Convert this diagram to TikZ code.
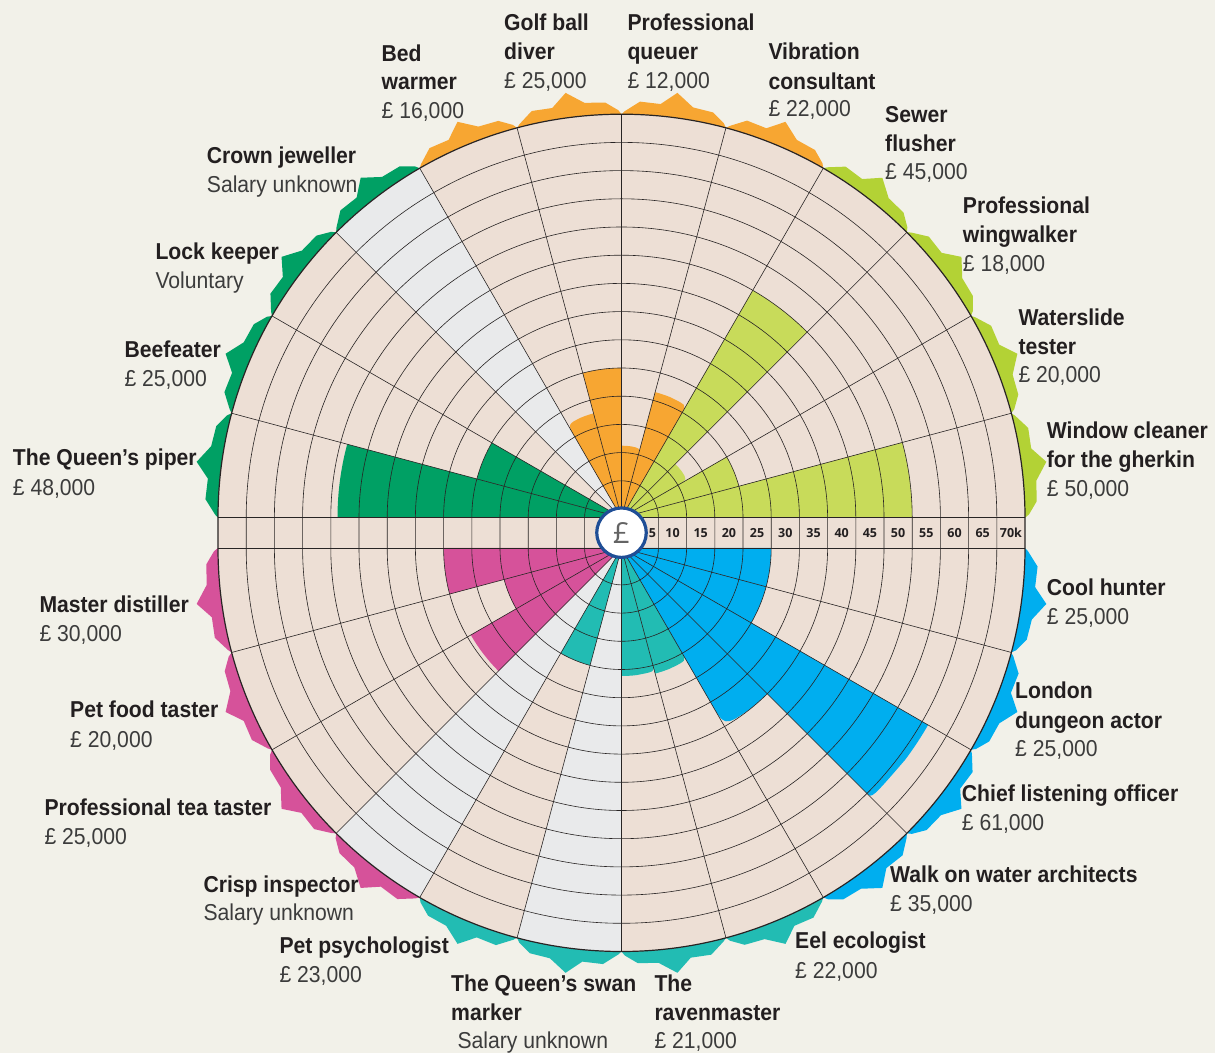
\documentclass[tikz,border=0pt]{standalone}
\usepackage{fontspec}
\setmainfont{Liberation Sans}[FakeStretch=0.92]
\newfontfamily\numf{Open Sans}
\usetikzlibrary{calc}
\definecolor{bg}{RGB}{242,241,233}
\definecolor{beige}{RGB}{237,223,213}
\definecolor{greyw}{RGB}{233,234,235}
\definecolor{cOr}{RGB}{247,166,50}
\definecolor{cLi}{RGB}{200,219,90}
\definecolor{cLiT}{RGB}{179,210,53}
\definecolor{cBl}{RGB}{0,174,239}
\definecolor{cTe}{RGB}{34,188,179}
\definecolor{cPi}{RGB}{214,82,154}
\definecolor{cDg}{RGB}{0,160,100}
\definecolor{ink}{RGB}{35,31,32}
\definecolor{inkl}{RGB}{60,60,60}
\definecolor{gridc}{RGB}{40,36,36}
\definecolor{pound}{RGB}{31,78,150}
\definecolor{pgrey}{RGB}{100,100,100}
% sector wedge: center, a1, a2, radius, colour
\newcommand\wdg[5]{\fill[fill=#5] (#1) -- ($(#1)+(#2:#4)$) arc[start angle=#2, end angle=#3, radius=#4pt] -- cycle;}
% rounded-end wedge: center, full-side angle, rounded-side angle, base radius, value radius, colour
\newcommand\blb[6]{\fill[fill=#6] (#1) -- ($(#1)+(#2:#5)$) arc[start angle=#2, end angle={#2+0.45*(#3-#2)}, radius=#5pt] .. controls ($(#1)+(#3:#5)$) .. ($(#1)+(#3:#4)$) -- cycle;}
% decorative teeth: center, a1, a2, colour
\newcommand\mkteeth[4]{\fill[fill=#4] (#1) \foreach \t/\d in {0/0,0.03/4,0.15/12,0.34/13,0.5/25,0.64/12,0.83/13,0.97/3,1/0}{ -- ($(#1)+({#2+\t*(#3-#2)}:{403.5+\d})$)} -- cycle;}
\begin{document}
\begin{tikzpicture}[x=1pt,y=1pt,
  grid/.style={draw=gridc, line width=0.6pt},
  lb/.style={anchor=base west, inner sep=0pt, font=\bfseries\fontsize{23}{29}\selectfont, text=ink},
  sl/.style={anchor=base west, inner sep=0pt, font=\fontsize{23}{29}\selectfont, text=inkl},
  sc/.style={inner sep=0pt, font=\numf\bfseries\fontsize{12.5}{13}\selectfont, text=ink}]
\useasboundingbox (0,0) rectangle (1215,1053);
\fill[bg] (0,0) rectangle (1215,1053);
\coordinate (U) at (621.5,535.3);
\coordinate (L) at (621.5,505);
\coordinate (M) at (621.5,520.3);
% teeth
\foreach \a/\cc in {0/cLiT,15/cLiT,30/cLiT,45/cLiT,60/cOr,75/cOr,90/cOr,105/cOr,120/cDg,135/cDg,150/cDg,165/cDg}{\mkteeth{U}{\a}{\a+15}{\cc}}
\foreach \a/\cc in {180/cPi,195/cPi,210/cPi,225/cPi,240/cTe,255/cTe,270/cTe,285/cTe,300/cBl,315/cBl,330/cBl,345/cBl}{\mkteeth{L}{\a}{\a+15}{\cc}}
% base
\fill[beige] (U) -- ($(U)+(0:403.5)$) arc[start angle=0,end angle=180,radius=403.5pt] -- cycle;
\fill[beige] (L) -- ($(L)+(180:403.5)$) arc[start angle=180,end angle=360,radius=403.5pt] -- cycle;
\fill[beige] (218,505) rectangle (1025,535.3);
% unknown salaries
\wdg{U}{120}{135}{403.5}{greyw}
\wdg{L}{225}{240}{403.5}{greyw}
\wdg{L}{255}{270}{403.5}{greyw}
% upper bars
\wdg{U}{0}{15}{290.7}{cLi}
\wdg{U}{15}{30}{121.5}{cLi}
\blb{U}{45}{30}{65.1}{76}{cLi}
\wdg{U}{45}{60}{262.5}{cLi}
\blb{U}{75}{60}{121.5}{130}{cOr}
\blb{U}{90}{75}{65.1}{72}{cOr}
\wdg{U}{90}{105}{149.7}{cOr}
\blb{U}{105}{120}{93.3}{108}{cOr}
\wdg{U}{150}{165}{149.7}{cDg}
\wdg{U}{165}{180}{284}{cDg}
% lower bars
\wdg{L}{180}{195}{177.9}{cPi}
\wdg{L}{195}{210}{121.5}{cPi}
\wdg{L}{210}{225}{174}{cPi}
\wdg{L}{240}{255}{121.5}{cTe}
\blb{L}{270}{285}{121.5}{128}{cTe}
\blb{L}{285}{300}{121.5}{130}{cTe}
\blb{L}{315}{300}{177.9}{206}{cBl}
\blb{L}{330}{315}{347.1}{354}{cBl}
\wdg{L}{330}{345}{149.7}{cBl}
\wdg{L}{345}{360}{149.7}{cBl}
% grid rings
\foreach \k in {1,...,13}{
  \pgfmathsetmacro\rr{8.7+28.2*\k}
  \draw[grid] ($(U)+(\rr,0)$) arc[start angle=0,end angle=180,radius=\rr pt] -- ++(0,-30.3) arc[start angle=180,end angle=360,radius=\rr pt] -- cycle;
}
\foreach \a in {15,30,...,165} \draw[grid] (U) -- ($(U)+(\a:403.5)$);
\foreach \a in {195,210,...,345} \draw[grid] (L) -- ($(L)+(\a:403.5)$);
\draw[grid] (U) -- ($(U)+(90:403.5)$);
\draw[grid] (L) -- ($(L)+(270:403.5)$);
\draw[grid] (218,535.3) -- (1025,535.3);
\draw[grid] (218,505) -- (1025,505);
\draw[draw=gridc, line width=1.2pt] ($(U)+(403.5,0)$) arc[start angle=0,end angle=180,radius=403.5pt] -- ++(0,-30.3) arc[start angle=180,end angle=360,radius=403.5pt] -- cycle;
% centre
\node[circle, draw=pound, line width=3.2pt, fill=white, minimum size=49.5pt, inner sep=0pt, text=pgrey, font=\numf\fontsize{29}{29}\selectfont] (pnd) at (M) {£};
% scale
\node[sc] (s1) at (652.5,520.3) {5};
\foreach \k/\t in {2/10,3/15,4/20,5/25,6/30,7/35,8/40,9/45,10/50,11/55,12/60,13/65,14/70k}
  \node[sc] (s\k) at ({616.1+28.2*\k},520.3) {\t};
% labels
\node[lb] (bw1) at (381.5,991.5) {Bed};
\node[lb] (bw2) at (381.5,963) {warmer};
\node[sl] (bw3) at (381.5,934.5) {£ 16,000};
\node[lb] (gb1) at (504,1022.3) {Golf ball};
\node[lb] (gb2) at (504,993) {diver};
\node[sl] (gb3) at (504,964.5) {£ 25,000};
\node[lb] (pq1) at (627.3,1022.3) {Professional};
\node[lb] (pq2) at (627.3,993.5) {queuer};
\node[sl] (pq3) at (627.3,964.5) {£ 12,000};
\node[lb] (vc1) at (768.3,993) {Vibration};
\node[lb] (vc2) at (768.3,963.7) {consultant};
\node[sl] (vc3) at (768.3,936) {£ 22,000};
\node[lb] (sf1) at (885,930.3) {Sewer};
\node[lb] (sf2) at (885,901.3) {flusher};
\node[sl] (sf3) at (885,873) {£ 45,000};
\node[lb] (pw1) at (962.7,839.7) {Professional};
\node[lb] (pw2) at (962.7,810.5) {wingwalker};
\node[sl] (pw3) at (962.7,781.3) {£ 18,000};
\node[lb] (wt1) at (1018.3,727.5) {Waterslide};
\node[lb] (wt2) at (1018.3,698.5) {tester};
\node[sl] (wt3) at (1018.3,670) {£ 20,000};
\node[lb] (wc1) at (1046.7,614.5) {Window cleaner};
\node[lb] (wc2) at (1046.7,585.5) {for the gherkin};
\node[sl] (wc3) at (1046.7,556.3) {£ 50,000};
\node[lb] (ch1) at (1046.7,457) {Cool hunter};
\node[sl] (ch2) at (1046.7,428) {£ 25,000};
\node[lb] (ld1) at (1015,354) {London};
\node[lb] (ld2) at (1015,325) {dungeon actor};
\node[sl] (ld3) at (1015,296.5) {£ 25,000};
\node[lb] (cl1) at (961.7,251.5) {Chief listening officer};
\node[sl] (cl2) at (961.7,222.5) {£ 61,000};
\node[lb] (ww1) at (890,171) {Walk on water architects};
\node[sl] (ww2) at (890,141.7) {£ 35,000};
\node[lb] (ee1) at (795,104.3) {Eel ecologist};
\node[sl] (ee2) at (795,75) {£ 22,000};
\node[lb] (rm1) at (654.3,61.7) {The};
\node[lb] (rm2) at (654.3,32.7) {ravenmaster};
\node[sl] (rm3) at (654.3,4.3) {£ 21,000};
\node[lb] (qs1) at (451,61.7) {The Queen’s swan};
\node[lb] (qs2) at (451,32.7) {marker};
\node[sl] (qs3) at (457.3,4.3) {Salary unknown};
\node[lb] (pp1) at (279.3,99.3) {Pet psychologist};
\node[sl] (pp2) at (279.3,71) {£ 23,000};
\node[lb] (ci1) at (203.3,161) {Crisp inspector};
\node[sl] (ci2) at (203.3,132.5) {Salary unknown};
\node[lb] (tt1) at (44.3,237.7) {Professional tea taster};
\node[sl] (tt2) at (44.3,208.3) {£ 25,000};
\node[lb] (pf1) at (70,336) {Pet food taster};
\node[sl] (pf2) at (70,306) {£ 20,000};
\node[lb] (md1) at (39.3,440.3) {Master distiller};
\node[sl] (md2) at (39.3,411) {£ 30,000};
\node[lb] (qp1) at (12.7,587) {The Queen’s piper};
\node[sl] (qp2) at (12.7,557.7) {£ 48,000};
\node[lb] (bf1) at (124.3,695) {Beefeater};
\node[sl] (bf2) at (124.3,666) {£ 25,000};
\node[lb] (lk1) at (155.3,793.7) {Lock keeper};
\node[sl] (lk2) at (155.3,764.7) {Voluntary};
\node[lb] (cj1) at (206.7,889.7) {Crown jeweller};
\node[sl] (cj2) at (206.7,860.7) {Salary unknown};
\end{tikzpicture}
\end{document}
